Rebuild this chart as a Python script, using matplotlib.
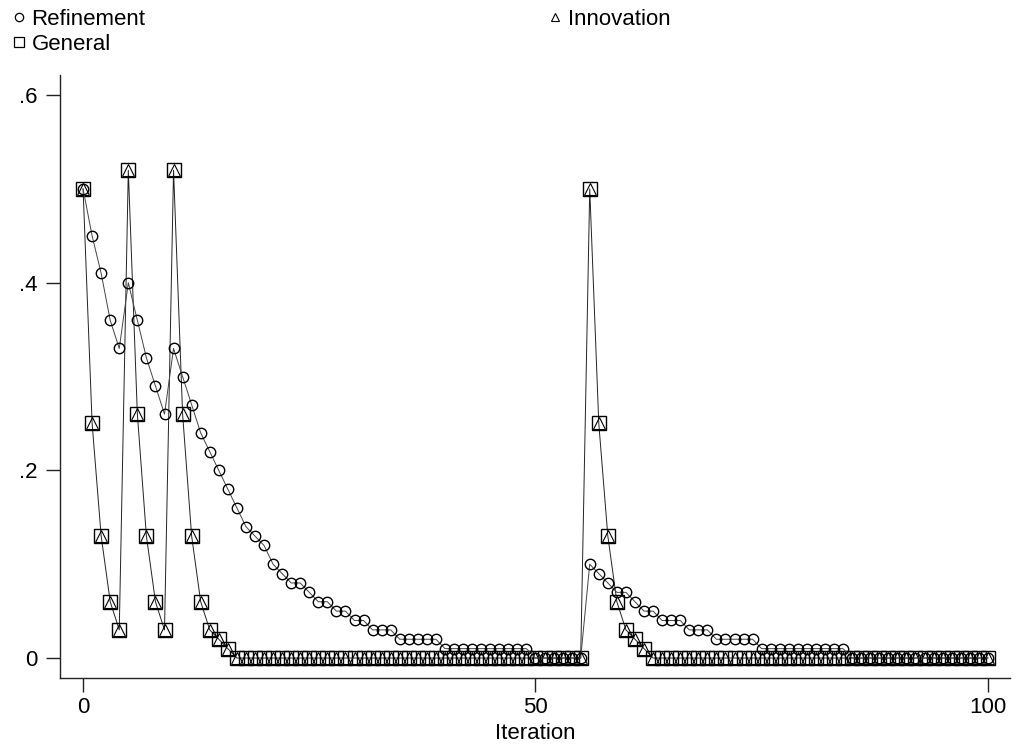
import numpy as np
import matplotlib
matplotlib.use("Agg")
import matplotlib.pyplot as plt
from matplotlib.lines import Line2D

plt.rcParams['font.family'] = ['Liberation Sans', 'DejaVu Sans']

# данные
iteration = list(range(0, 101))

refinement = [
    0.50, 0.45, 0.41, 0.36, 0.33, 0.40, 0.36, 0.32, 0.29, 0.26,
    0.33, 0.30, 0.27, 0.24, 0.22, 0.20, 0.18, 0.16, 0.14, 0.13,
    0.12, 0.10, 0.09, 0.08, 0.08, 0.07, 0.06, 0.06, 0.05, 0.05,
    0.04, 0.04, 0.03, 0.03, 0.03, 0.02, 0.02, 0.02, 0.02, 0.02,
    0.01, 0.01, 0.01, 0.01, 0.01, 0.01, 0.01, 0.01, 0.01, 0.01,
    0.00, 0.00, 0.00, 0.00, 0.00, 0.00, 0.10, 0.09, 0.08, 0.07,
    0.07, 0.06, 0.05, 0.05, 0.04, 0.04, 0.04, 0.03, 0.03, 0.03,
    0.02, 0.02, 0.02, 0.02, 0.02, 0.01, 0.01, 0.01, 0.01, 0.01,
    0.01, 0.01, 0.01, 0.01, 0.01, 0.00, 0.00, 0.00, 0.00, 0.00,
    0.00, 0.00, 0.00, 0.00, 0.00, 0.00, 0.00, 0.00, 0.00, 0.00,
    0.00,
]

general = [
    0.50, 0.25, 0.13, 0.06, 0.03, 0.52, 0.26, 0.13, 0.06, 0.03,
    0.52, 0.26, 0.13, 0.06, 0.03, 0.02, 0.01, 0.00, 0.00, 0.00,
    0.00, 0.00, 0.00, 0.00, 0.00, 0.00, 0.00, 0.00, 0.00, 0.00,
    0.00, 0.00, 0.00, 0.00, 0.00, 0.00, 0.00, 0.00, 0.00, 0.00,
    0.00, 0.00, 0.00, 0.00, 0.00, 0.00, 0.00, 0.00, 0.00, 0.00,
    0.00, 0.00, 0.00, 0.00, 0.00, 0.00, 0.50, 0.25, 0.13, 0.06,
    0.03, 0.02, 0.01, 0.00, 0.00, 0.00, 0.00, 0.00, 0.00, 0.00,
    0.00, 0.00, 0.00, 0.00, 0.00, 0.00, 0.00, 0.00, 0.00, 0.00,
    0.00, 0.00, 0.00, 0.00, 0.00, 0.00, 0.00, 0.00, 0.00, 0.00,
    0.00, 0.00, 0.00, 0.00, 0.00, 0.00, 0.00, 0.00, 0.00, 0.00,
    0.00,
]

innovation = [
    0.50, 0.25, 0.13, 0.06, 0.03, 0.52, 0.26, 0.13, 0.06, 0.03,
    0.52, 0.26, 0.13, 0.06, 0.03, 0.02, 0.01, 0.00, 0.00, 0.00,
    0.00, 0.00, 0.00, 0.00, 0.00, 0.00, 0.00, 0.00, 0.00, 0.00,
    0.00, 0.00, 0.00, 0.00, 0.00, 0.00, 0.00, 0.00, 0.00, 0.00,
    0.00, 0.00, 0.00, 0.00, 0.00, 0.00, 0.00, 0.00, 0.00, 0.00,
    0.00, 0.00, 0.00, 0.00, 0.00, 0.00, 0.50, 0.25, 0.13, 0.06,
    0.03, 0.02, 0.01, 0.00, 0.00, 0.00, 0.00, 0.00, 0.00, 0.00,
    0.00, 0.00, 0.00, 0.00, 0.00, 0.00, 0.00, 0.00, 0.00, 0.00,
    0.00, 0.00, 0.00, 0.00, 0.00, 0.00, 0.00, 0.00, 0.00, 0.00,
    0.00, 0.00, 0.00, 0.00, 0.00, 0.00, 0.00, 0.00, 0.00, 0.00,
    0.00,
]

xticks = [0, 50, 100]
yticks = [0, 0.2, 0.4, 0.6]
ytick_labels = ["0", ".2", ".4", ".6"]

# график
fig = plt.figure(figsize=(10.23, 7.49), dpi=100)
ax = fig.add_axes([60 / 1023, 1 - 678 / 749, 950 / 1023, 603 / 749])

ax.plot(iteration, refinement, color='#444444', lw=0.7, marker='o', ms=7.5,
        mfc='none', mec='black', mew=1.0, label='Refinement', zorder=3)
ax.plot(iteration, general, color='#222222', lw=0.7, marker='s', ms=9.5,
        mfc='none', mec='black', mew=1.0, label='General', zorder=2)
ax.plot(iteration, innovation, ls='none', marker='^', ms=8.5,
        mfc='none', mec='black', mew=0.8, label='Innovation', zorder=2)

ax.set_xlim(-2.55, 102.45)
ax.set_ylim(-0.0213, 0.6215)
ax.set_xticks(xticks)
ax.set_xticklabels([str(t) for t in xticks])
ax.set_yticks(yticks)
ax.set_yticklabels(ytick_labels)
ax.tick_params(axis='both', direction='out', length=10, width=1, labelsize=16,
               color='#222222', pad=6)
ax.tick_params(axis='x', pad=4)
ax.set_xlabel('Iteration', fontsize=16, labelpad=3)

for side in ['top', 'right']:
    ax.spines[side].set_visible(False)
for side in ['left', 'bottom']:
    ax.spines[side].set_linewidth(1)
    ax.spines[side].set_color('#222222')

# легенда
h_ref = Line2D([], [], ls='none', marker='o', ms=6, mfc='none', mec='black', mew=0.9)
h_gen = Line2D([], [], ls='none', marker='s', ms=7, mfc='none', mec='black', mew=0.9)
h_inn = Line2D([], [], ls='none', marker='^', ms=6, mfc='none', mec='black', mew=0.8)

fig.legend([h_ref, h_gen], ['Refinement', 'General'], loc='upper left',
           bbox_to_anchor=(-0.004, 1.012), frameon=False, fontsize=16,
           handlelength=0.5, handletextpad=0.3, labelspacing=0.2,
           borderpad=0.3)
fig.legend([h_inn], ['Innovation'], loc='upper left',
           bbox_to_anchor=(532 / 1023, 1.012), frameon=False, fontsize=16,
           handlelength=0.5, handletextpad=0.3, borderpad=0.3)

fig.savefig('out.png', dpi=100)
